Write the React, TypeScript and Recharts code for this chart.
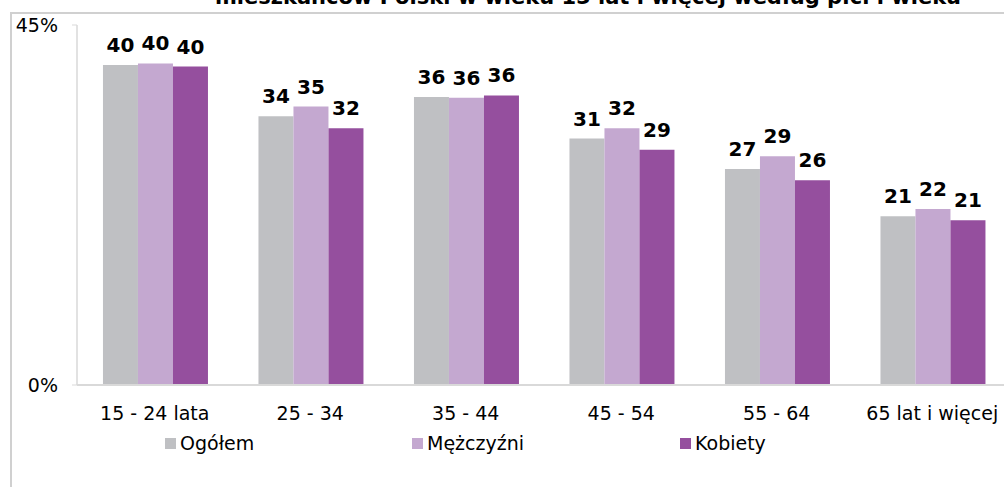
import React from "react";
import {
  BarChart,
  Bar,
  XAxis,
  YAxis,
  LabelList,
} from "recharts";

const categories = ["15 - 24 lata", "25 - 34", "35 - 44", "45 - 54", "55 - 64", "65 lat i więcej"];
const ogolem = [40.0, 33.6, 36.0, 30.8, 27.0, 21.1];
const mezczyzni = [40.2, 34.8, 35.9, 32.1, 28.6, 22.0];
const kobiety = [39.8, 32.1, 36.2, 29.4, 25.6, 20.6];
const yTicks = [0, 45];

const seriesKeys = ["ogolem", "mezczyzni", "kobiety"] as const;
const seriesNames = ["Ogółem", "Mężczyźni", "Kobiety"];
const colors = ["#bfc0c3", "#c4a8d0", "#954f9e"];

const data = categories.map((name, i) => ({
  name,
  ogolem: ogolem[i],
  mezczyzni: mezczyzni[i],
  kobiety: kobiety[i],
}));

const FONT = "'DejaVu Sans', Verdana, sans-serif";

const legendLefts = [165, 412, 680];

const App: React.FC = () => {
  return (
    <div style={{ position: "relative", width: 1004, height: 487, overflow: "hidden", background: "#fff", fontFamily: FONT }}>
      <style>{`body{margin:0;overflow:hidden}`}</style>
      <div
        style={{
          position: "absolute",
          left: 10,
          top: 12,
          width: 1100,
          height: 600,
          borderLeft: "2px solid #d0d0d0",
          borderTop: "2px solid #d0d0d0",
        }}
      />
      <div
        style={{
          position: "absolute",
          top: -13,
          left: 0,
          width: 1176,
          textAlign: "center",
          fontWeight: "bold",
          fontSize: 21,
          lineHeight: "21px",
          color: "#000",
          whiteSpace: "nowrap",
        }}
      >
        mieszkańców Polski w wieku 15 lat i więcej według płci i wieku
      </div>
      <div style={{ position: "absolute", left: 0, top: 0 }}>
        <BarChart
          width={1010}
          height={487}
          data={data}
          margin={{ top: 25, right: 0, left: 0, bottom: 57 }}
          barGap={0}
          barCategoryGap="16.7%"
        >
          <XAxis
            dataKey="name"
            interval={0}
            tickLine={false}
            axisLine={{ stroke: "#d9d9d9", strokeWidth: 2 }}
            tick={{ fontSize: 19, fill: "#000", fontFamily: FONT }}
            tickMargin={16}
            height={45}
          />
          <YAxis
            width={77}
            domain={[0, 45]}
            ticks={yTicks}
            tickFormatter={(v: number) => `${v}%`}
            tick={{ fontSize: 19, fill: "#000", fontFamily: FONT }}
            axisLine={{ stroke: "#d9d9d9", strokeWidth: 1.5 }}
            tickLine={{ stroke: "#d9d9d9" }}
            tickSize={5}
            tickMargin={14}
          />
          {seriesKeys.map((key, i) => (
            <Bar key={key} dataKey={key} name={seriesNames[i]} fill={colors[i]} isAnimationActive={false}>
              <LabelList
                dataKey={key}
                position="top"
                offset={13}
                formatter={(v: number) => Math.round(v)}
                style={{ fontSize: 20, fontWeight: "bold", fill: "#000", fontFamily: FONT }}
              />
            </Bar>
          ))}
        </BarChart>
      </div>
      {seriesNames.map((name, i) => (
        <div
          key={name}
          style={{
            position: "absolute",
            left: legendLefts[i],
            top: 432,
            display: "flex",
            alignItems: "center",
            fontSize: 19,
            color: "#000",
            whiteSpace: "nowrap",
          }}
        >
          <span style={{ display: "inline-block", width: 11, height: 11, background: colors[i], marginRight: 4 }} />
          <span>{name}</span>
        </div>
      ))}
    </div>
  );
};

export default App;
